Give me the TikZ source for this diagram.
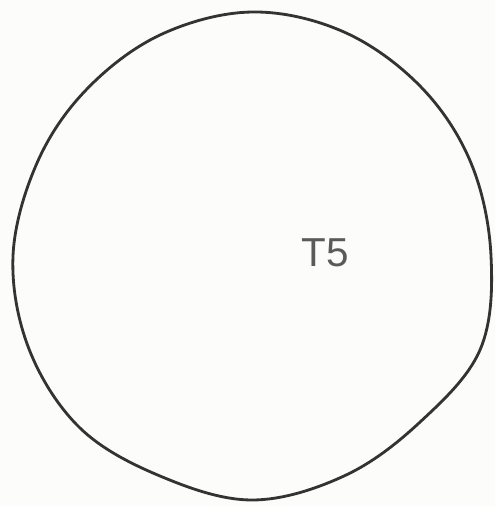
\documentclass[tikz,border=0pt]{standalone}
\usepackage{fontspec}
\setsansfont{Liberation Sans}
\usepackage{xcolor}
\usepackage{tikz}
\usetikzlibrary{positioning}
\definecolor{paper}{HTML}{FCFCFB}
\definecolor{ink}{HTML}{333333}
\definecolor{labelink}{HTML}{5A5A5A}

\begin{document}
\begin{tikzpicture}[x=0.02cm,y=-0.02cm]

  % page
  \fill[paper] (0,0) rectangle (495,506);
  \useasboundingbox (0,0) rectangle (495,506);

  % hand drawn outline
  \draw[ink,line width=1.6pt,line join=round] plot[smooth cycle,tension=0.6] coordinates {
    (252,12) (344,32) (421,87) (471,163) (491,256) (480,350) (419,423)
    (344,476) (252,500) (160,476) (80,428) (29,349) (13,256) (37,163)
    (86,90) (160,35)};

  % label
  \node[font=\sffamily\fontsize{23}{26}\selectfont,text=labelink] (tfive) at (325,253) {T5};

\end{tikzpicture}
\end{document}
